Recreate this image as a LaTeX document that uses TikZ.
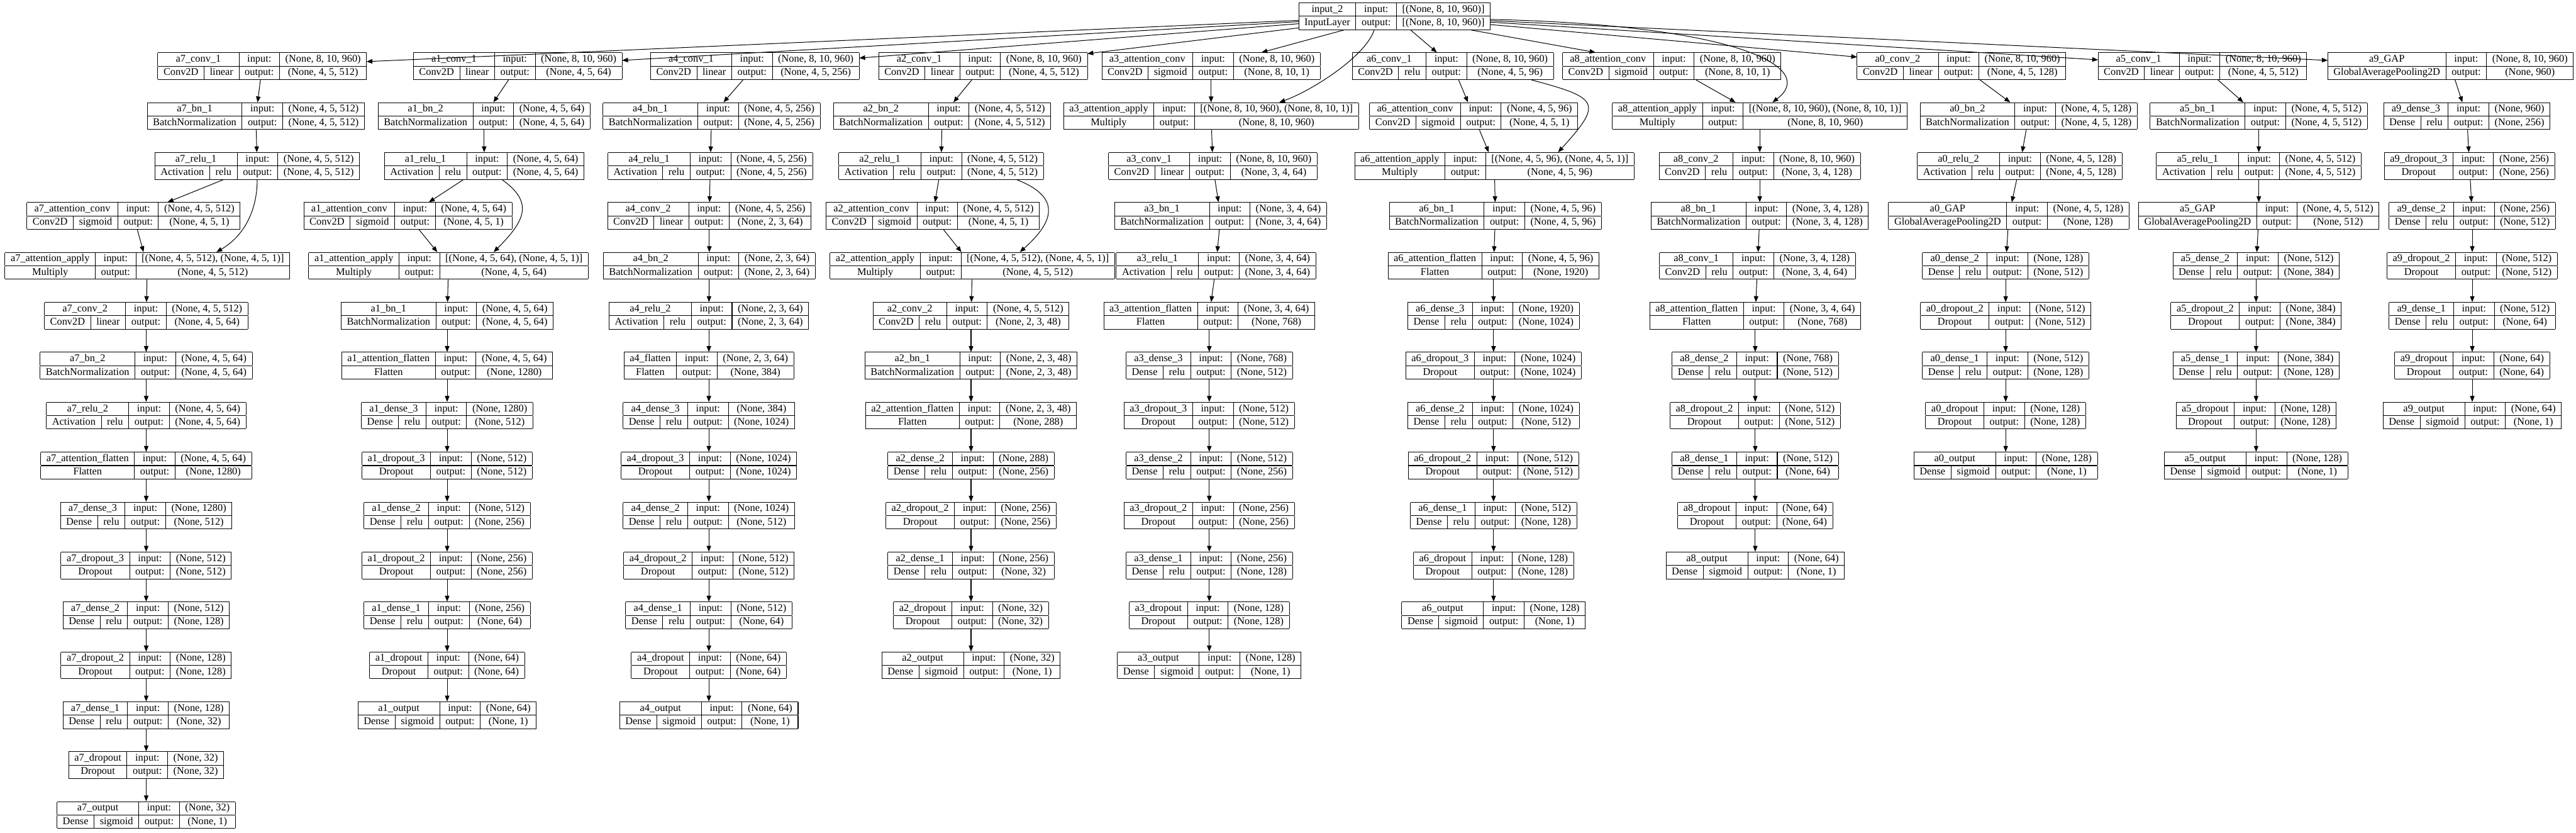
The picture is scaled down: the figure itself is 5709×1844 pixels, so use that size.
\documentclass[tikz,border=0pt]{standalone}
\usepackage{fontspec}
\setmainfont{Liberation Serif}
\usetikzlibrary{arrows.meta}
\newcommand{\lyrfont}{\fontsize{22.8pt}{27pt}\selectfont}
\setlength{\arrayrulewidth}{1.4pt}
\setlength{\tabcolsep}{12.7pt}
\renewcommand{\arraystretch}{1.05}
% layer record with activation cell
\newcommand{\lyra}[5]{\begin{tabular}{|c|c|c|c|}\hline
  \multicolumn{2}{|c|}{#1} & input: & #4\\\hline
  #2 & #3 & output: & #5\\\hline\end{tabular}}
% layer record without activation cell
\newcommand{\lyrb}[4]{\begin{tabular}{|c|c|c|}\hline
  #1 & input: & #3\\\hline
  #2 & output: & #4\\\hline\end{tabular}}
\begin{document}
\begin{tikzpicture}[x=1pt,y=-1pt]
  \tikzstyle{lyr}=[inner sep=0pt,outer sep=0pt,font=\lyrfont]
  \tikzstyle{link}=[draw,line width=1.4pt,-{Triangle[length=13pt,width=10pt]}]
  \useasboundingbox (0,0) rectangle (5709,1844);
  \node [lyr] (input2) at (3090.5,36) {\lyrb{input\_2}{InputLayer}{[(None, 8, 10, 960)]}{[(None, 8, 10, 960)]}} ;
  % a7 branch
  \node [lyr] (a7conv1) at (581,146.6) {\lyra{a7\_conv\_1}{Conv2D}{linear}{(None, 8, 10, 960)}{(None, 4, 5, 512)}} ;
  \node [lyr] (a7bn1) at (567,257.2) {\lyrb{a7\_bn\_1}{BatchNormalization}{(None, 4, 5, 512)}{(None, 4, 5, 512)}} ;
  \node [lyr] (a7relu1) at (570,367.8) {\lyra{a7\_relu\_1}{Activation}{relu}{(None, 4, 5, 512)}{(None, 4, 5, 512)}} ;
  \node [lyr] (a7attconv) at (296,478.4) {\lyra{a7\_attention\_conv}{Conv2D}{sigmoid}{(None, 4, 5, 512)}{(None, 4, 5, 1)}} ;
  \node [lyr] (a7apply) at (326.5,589) {\lyrb{a7\_attention\_apply}{Multiply}{[(None, 4, 5, 512), (None, 4, 5, 1)]}{(None, 4, 5, 512)}} ;
  \node [lyr] (a7conv2) at (324,699.6) {\lyra{a7\_conv\_2}{Conv2D}{linear}{(None, 4, 5, 512)}{(None, 4, 5, 64)}} ;
  \node [lyr] (a7bn2) at (324,810.2) {\lyrb{a7\_bn\_2}{BatchNormalization}{(None, 4, 5, 64)}{(None, 4, 5, 64)}} ;
  \node [lyr] (a7relu2) at (324,920.8) {\lyra{a7\_relu\_2}{Activation}{relu}{(None, 4, 5, 64)}{(None, 4, 5, 64)}} ;
  \node [lyr] (a7flat) at (324,1031.4) {\lyrb{a7\_attention\_flatten}{Flatten}{(None, 4, 5, 64)}{(None, 1280)}} ;
  \node [lyr] (a7dense3) at (324,1142) {\lyra{a7\_dense\_3}{Dense}{relu}{(None, 1280)}{(None, 512)}} ;
  \node [lyr] (a7drop3) at (324,1252.6) {\lyrb{a7\_dropout\_3}{Dropout}{(None, 512)}{(None, 512)}} ;
  \node [lyr] (a7dense2) at (324,1363.2) {\lyra{a7\_dense\_2}{Dense}{relu}{(None, 512)}{(None, 128)}} ;
  \node [lyr] (a7drop2) at (324,1473.8) {\lyrb{a7\_dropout\_2}{Dropout}{(None, 128)}{(None, 128)}} ;
  \node [lyr] (a7dense1) at (324,1584.4) {\lyra{a7\_dense\_1}{Dense}{relu}{(None, 128)}{(None, 32)}} ;
  \node [lyr] (a7drop) at (324,1695) {\lyrb{a7\_dropout}{Dropout}{(None, 32)}{(None, 32)}} ;
  \node [lyr] (a7out) at (324,1805.6) {\lyra{a7\_output}{Dense}{sigmoid}{(None, 32)}{(None, 1)}} ;
  % a1 branch
  \node [lyr] (a1conv1) at (1147.5,146.6) {\lyra{a1\_conv\_1}{Conv2D}{linear}{(None, 8, 10, 960)}{(None, 4, 5, 64)}} ;
  \node [lyr] (a1bn2) at (1073,257.2) {\lyrb{a1\_bn\_2}{BatchNormalization}{(None, 4, 5, 64)}{(None, 4, 5, 64)}} ;
  \node [lyr] (a1relu1) at (1073,367.8) {\lyra{a1\_relu\_1}{Activation}{relu}{(None, 4, 5, 64)}{(None, 4, 5, 64)}} ;
  \node [lyr] (a1attconv) at (904,478.4) {\lyra{a1\_attention\_conv}{Conv2D}{sigmoid}{(None, 4, 5, 64)}{(None, 4, 5, 1)}} ;
  \node [lyr] (a1apply) at (994,589) {\lyrb{a1\_attention\_apply}{Multiply}{[(None, 4, 5, 64), (None, 4, 5, 1)]}{(None, 4, 5, 64)}} ;
  \node [lyr] (a1bn1) at (991,699.6) {\lyrb{a1\_bn\_1}{BatchNormalization}{(None, 4, 5, 64)}{(None, 4, 5, 64)}} ;
  \node [lyr] (a1flat) at (991,810.2) {\lyrb{a1\_attention\_flatten}{Flatten}{(None, 4, 5, 64)}{(None, 1280)}} ;
  \node [lyr] (a1dense3) at (991,920.8) {\lyra{a1\_dense\_3}{Dense}{relu}{(None, 1280)}{(None, 512)}} ;
  \node [lyr] (a1drop3) at (991,1031.4) {\lyrb{a1\_dropout\_3}{Dropout}{(None, 512)}{(None, 512)}} ;
  \node [lyr] (a1dense2) at (991,1142) {\lyra{a1\_dense\_2}{Dense}{relu}{(None, 512)}{(None, 256)}} ;
  \node [lyr] (a1drop2) at (991,1252.6) {\lyrb{a1\_dropout\_2}{Dropout}{(None, 256)}{(None, 256)}} ;
  \node [lyr] (a1dense1) at (991,1363.2) {\lyra{a1\_dense\_1}{Dense}{relu}{(None, 256)}{(None, 64)}} ;
  \node [lyr] (a1drop) at (991,1473.8) {\lyrb{a1\_dropout}{Dropout}{(None, 64)}{(None, 64)}} ;
  \node [lyr] (a1out) at (991,1584.4) {\lyra{a1\_output}{Dense}{sigmoid}{(None, 64)}{(None, 1)}} ;
  % a4 branch
  \node [lyr] (a4conv1) at (1673,146.6) {\lyra{a4\_conv\_1}{Conv2D}{linear}{(None, 8, 10, 960)}{(None, 4, 5, 256)}} ;
  \node [lyr] (a4bn1) at (1577,257.2) {\lyrb{a4\_bn\_1}{BatchNormalization}{(None, 4, 5, 256)}{(None, 4, 5, 256)}} ;
  \node [lyr] (a4relu1) at (1574,367.8) {\lyra{a4\_relu\_1}{Activation}{relu}{(None, 4, 5, 256)}{(None, 4, 5, 256)}} ;
  \node [lyr] (a4conv2) at (1572,478.4) {\lyra{a4\_conv\_2}{Conv2D}{linear}{(None, 4, 5, 256)}{(None, 2, 3, 64)}} ;
  \node [lyr] (a4bn2) at (1572,589) {\lyrb{a4\_bn\_2}{BatchNormalization}{(None, 2, 3, 64)}{(None, 2, 3, 64)}} ;
  \node [lyr] (a4relu2) at (1571,699.6) {\lyra{a4\_relu\_2}{Activation}{relu}{(None, 2, 3, 64)}{(None, 2, 3, 64)}} ;
  \node [lyr] (a4flat) at (1571,810.2) {\lyrb{a4\_flatten}{Flatten}{(None, 2, 3, 64)}{(None, 384)}} ;
  \node [lyr] (a4dense3) at (1571,920.8) {\lyra{a4\_dense\_3}{Dense}{relu}{(None, 384)}{(None, 1024)}} ;
  \node [lyr] (a4drop3) at (1571,1031.4) {\lyrb{a4\_dropout\_3}{Dropout}{(None, 1024)}{(None, 1024)}} ;
  \node [lyr] (a4dense2) at (1571,1142) {\lyra{a4\_dense\_2}{Dense}{relu}{(None, 1024)}{(None, 512)}} ;
  \node [lyr] (a4drop2) at (1571,1252.6) {\lyrb{a4\_dropout\_2}{Dropout}{(None, 512)}{(None, 512)}} ;
  \node [lyr] (a4dense1) at (1571,1363.2) {\lyra{a4\_dense\_1}{Dense}{relu}{(None, 512)}{(None, 64)}} ;
  \node [lyr] (a4drop) at (1571,1473.8) {\lyrb{a4\_dropout}{Dropout}{(None, 64)}{(None, 64)}} ;
  \node [lyr] (a4out) at (1571,1584.4) {\lyra{a4\_output}{Dense}{sigmoid}{(None, 64)}{(None, 1)}} ;
  % a2 branch
  \node [lyr] (a2conv1) at (2178.6,146.6) {\lyra{a2\_conv\_1}{Conv2D}{linear}{(None, 8, 10, 960)}{(None, 4, 5, 512)}} ;
  \node [lyr] (a2bn2) at (2088,257.2) {\lyrb{a2\_bn\_2}{BatchNormalization}{(None, 4, 5, 512)}{(None, 4, 5, 512)}} ;
  \node [lyr] (a2relu1) at (2085.6,367.8) {\lyra{a2\_relu\_1}{Activation}{relu}{(None, 4, 5, 512)}{(None, 4, 5, 512)}} ;
  \node [lyr] (a2attconv) at (2067,478.4) {\lyra{a2\_attention\_conv}{Conv2D}{sigmoid}{(None, 4, 5, 512)}{(None, 4, 5, 1)}} ;
  \node [lyr] (a2apply) at (2155,589) {\lyrb{a2\_attention\_apply}{Multiply}{[(None, 4, 5, 512), (None, 4, 5, 1)]}{(None, 4, 5, 512)}} ;
  \node [lyr] (a2conv2) at (2152,699.6) {\lyra{a2\_conv\_2}{Conv2D}{relu}{(None, 4, 5, 512)}{(None, 2, 3, 48)}} ;
  \node [lyr] (a2bn1) at (2152,810.2) {\lyrb{a2\_bn\_1}{BatchNormalization}{(None, 2, 3, 48)}{(None, 2, 3, 48)}} ;
  \node [lyr] (a2flat) at (2152,920.8) {\lyrb{a2\_attention\_flatten}{Flatten}{(None, 2, 3, 48)}{(None, 288)}} ;
  \node [lyr] (a2dense2) at (2152,1031.4) {\lyra{a2\_dense\_2}{Dense}{relu}{(None, 288)}{(None, 256)}} ;
  \node [lyr] (a2drop2) at (2152,1142) {\lyrb{a2\_dropout\_2}{Dropout}{(None, 256)}{(None, 256)}} ;
  \node [lyr] (a2dense1) at (2152,1252.6) {\lyra{a2\_dense\_1}{Dense}{relu}{(None, 256)}{(None, 32)}} ;
  \node [lyr] (a2drop) at (2152,1363.2) {\lyrb{a2\_dropout}{Dropout}{(None, 32)}{(None, 32)}} ;
  \node [lyr] (a2out) at (2152,1473.8) {\lyra{a2\_output}{Dense}{sigmoid}{(None, 32)}{(None, 1)}} ;
  % a3 branch
  \node [lyr] (a3attconv) at (2684,146.6) {\lyra{a3\_attention\_conv}{Conv2D}{sigmoid}{(None, 8, 10, 960)}{(None, 8, 10, 1)}} ;
  \node [lyr] (a3apply) at (2684,257.2) {\lyrb{a3\_attention\_apply}{Multiply}{[(None, 8, 10, 960), (None, 8, 10, 1)]}{(None, 8, 10, 960)}} ;
  \node [lyr] (a3conv1) at (2688,367.8) {\lyra{a3\_conv\_1}{Conv2D}{linear}{(None, 8, 10, 960)}{(None, 3, 4, 64)}} ;
  \node [lyr] (a3bn1) at (2705,478.4) {\lyrb{a3\_bn\_1}{BatchNormalization}{(None, 3, 4, 64)}{(None, 3, 4, 64)}} ;
  \node [lyr] (a3relu1) at (2695,589) {\lyra{a3\_relu\_1}{Activation}{relu}{(None, 3, 4, 64)}{(None, 3, 4, 64)}} ;
  \node [lyr] (a3flat) at (2680,699.6) {\lyrb{a3\_attention\_flatten}{Flatten}{(None, 3, 4, 64)}{(None, 768)}} ;
  \node [lyr] (a3dense3) at (2680,810.2) {\lyra{a3\_dense\_3}{Dense}{relu}{(None, 768)}{(None, 512)}} ;
  \node [lyr] (a3drop3) at (2680,920.8) {\lyrb{a3\_dropout\_3}{Dropout}{(None, 512)}{(None, 512)}} ;
  \node [lyr] (a3dense2) at (2680,1031.4) {\lyra{a3\_dense\_2}{Dense}{relu}{(None, 512)}{(None, 256)}} ;
  \node [lyr] (a3drop2) at (2680,1142) {\lyrb{a3\_dropout\_2}{Dropout}{(None, 256)}{(None, 256)}} ;
  \node [lyr] (a3dense1) at (2680,1252.6) {\lyra{a3\_dense\_1}{Dense}{relu}{(None, 256)}{(None, 128)}} ;
  \node [lyr] (a3drop) at (2680,1363.2) {\lyrb{a3\_dropout}{Dropout}{(None, 128)}{(None, 128)}} ;
  \node [lyr] (a3out) at (2680,1473.8) {\lyra{a3\_output}{Dense}{sigmoid}{(None, 128)}{(None, 1)}} ;
  % a6 branch
  \node [lyr] (a6conv1) at (3220,146.6) {\lyra{a6\_conv\_1}{Conv2D}{relu}{(None, 8, 10, 960)}{(None, 4, 5, 96)}} ;
  \node [lyr] (a6attconv) at (3266,257.2) {\lyra{a6\_attention\_conv}{Conv2D}{sigmoid}{(None, 4, 5, 96)}{(None, 4, 5, 1)}} ;
  \node [lyr] (a6apply) at (3312,367.8) {\lyrb{a6\_attention\_apply}{Multiply}{[(None, 4, 5, 96), (None, 4, 5, 1)]}{(None, 4, 5, 96)}} ;
  \node [lyr] (a6bn1) at (3314,478.4) {\lyrb{a6\_bn\_1}{BatchNormalization}{(None, 4, 5, 96)}{(None, 4, 5, 96)}} ;
  \node [lyr] (a6flat) at (3310,589) {\lyrb{a6\_attention\_flatten}{Flatten}{(None, 4, 5, 96)}{(None, 1920)}} ;
  \node [lyr] (a6dense3) at (3310,699.6) {\lyra{a6\_dense\_3}{Dense}{relu}{(None, 1920)}{(None, 1024)}} ;
  \node [lyr] (a6drop3) at (3310,810.2) {\lyrb{a6\_dropout\_3}{Dropout}{(None, 1024)}{(None, 1024)}} ;
  \node [lyr] (a6dense2) at (3310,920.8) {\lyra{a6\_dense\_2}{Dense}{relu}{(None, 1024)}{(None, 512)}} ;
  \node [lyr] (a6drop2) at (3310,1031.4) {\lyrb{a6\_dropout\_2}{Dropout}{(None, 512)}{(None, 512)}} ;
  \node [lyr] (a6dense1) at (3310,1142) {\lyra{a6\_dense\_1}{Dense}{relu}{(None, 512)}{(None, 128)}} ;
  \node [lyr] (a6drop) at (3310,1252.6) {\lyrb{a6\_dropout}{Dropout}{(None, 128)}{(None, 128)}} ;
  \node [lyr] (a6out) at (3310,1363.2) {\lyra{a6\_output}{Dense}{sigmoid}{(None, 128)}{(None, 1)}} ;
  % a8 branch
  \node [lyr] (a8attconv) at (3705,146.6) {\lyra{a8\_attention\_conv}{Conv2D}{sigmoid}{(None, 8, 10, 960)}{(None, 8, 10, 1)}} ;
  \node [lyr] (a8apply) at (3900,257.2) {\lyrb{a8\_attention\_apply}{Multiply}{[(None, 8, 10, 960), (None, 8, 10, 1)]}{(None, 8, 10, 960)}} ;
  \node [lyr] (a8conv2) at (3900,367.8) {\lyra{a8\_conv\_2}{Conv2D}{relu}{(None, 8, 10, 960)}{(None, 3, 4, 128)}} ;
  \node [lyr] (a8bn1) at (3900,478.4) {\lyrb{a8\_bn\_1}{BatchNormalization}{(None, 3, 4, 128)}{(None, 3, 4, 128)}} ;
  \node [lyr] (a8conv1) at (3895,589) {\lyra{a8\_conv\_1}{Conv2D}{relu}{(None, 3, 4, 128)}{(None, 3, 4, 64)}} ;
  \node [lyr] (a8flat) at (3890,699.6) {\lyrb{a8\_attention\_flatten}{Flatten}{(None, 3, 4, 64)}{(None, 768)}} ;
  \node [lyr] (a8dense2) at (3890,810.2) {\lyra{a8\_dense\_2}{Dense}{relu}{(None, 768)}{(None, 512)}} ;
  \node [lyr] (a8drop2) at (3890,920.8) {\lyrb{a8\_dropout\_2}{Dropout}{(None, 512)}{(None, 512)}} ;
  \node [lyr] (a8dense1) at (3890,1031.4) {\lyra{a8\_dense\_1}{Dense}{relu}{(None, 512)}{(None, 64)}} ;
  \node [lyr] (a8drop) at (3890,1142) {\lyrb{a8\_dropout}{Dropout}{(None, 64)}{(None, 64)}} ;
  \node [lyr] (a8out) at (3890,1252.6) {\lyra{a8\_output}{Dense}{sigmoid}{(None, 64)}{(None, 1)}} ;
  % a0 branch
  \node [lyr] (a0conv2) at (4347,146.6) {\lyra{a0\_conv\_2}{Conv2D}{linear}{(None, 8, 10, 960)}{(None, 4, 5, 128)}} ;
  \node [lyr] (a0bn2) at (4496,257.2) {\lyrb{a0\_bn\_2}{BatchNormalization}{(None, 4, 5, 128)}{(None, 4, 5, 128)}} ;
  \node [lyr] (a0relu2) at (4476,367.8) {\lyra{a0\_relu\_2}{Activation}{relu}{(None, 4, 5, 128)}{(None, 4, 5, 128)}} ;
  \node [lyr] (a0gap) at (4452,478.4) {\lyrb{a0\_GAP}{GlobalAveragePooling2D}{(None, 4, 5, 128)}{(None, 128)}} ;
  \node [lyr] (a0dense2) at (4445,589) {\lyra{a0\_dense\_2}{Dense}{relu}{(None, 128)}{(None, 512)}} ;
  \node [lyr] (a0drop2) at (4445,699.6) {\lyrb{a0\_dropout\_2}{Dropout}{(None, 512)}{(None, 512)}} ;
  \node [lyr] (a0dense1) at (4445,810.2) {\lyra{a0\_dense\_1}{Dense}{relu}{(None, 512)}{(None, 128)}} ;
  \node [lyr] (a0drop) at (4445,920.8) {\lyrb{a0\_dropout}{Dropout}{(None, 128)}{(None, 128)}} ;
  \node [lyr] (a0out) at (4445,1031.4) {\lyra{a0\_output}{Dense}{sigmoid}{(None, 128)}{(None, 1)}} ;
  % a5 branch
  \node [lyr] (a5conv1) at (4881,146.6) {\lyra{a5\_conv\_1}{Conv2D}{linear}{(None, 8, 10, 960)}{(None, 4, 5, 512)}} ;
  \node [lyr] (a5bn1) at (5006,257.2) {\lyrb{a5\_bn\_1}{BatchNormalization}{(None, 4, 5, 512)}{(None, 4, 5, 512)}} ;
  \node [lyr] (a5relu1) at (5006,367.8) {\lyra{a5\_relu\_1}{Activation}{relu}{(None, 4, 5, 512)}{(None, 4, 5, 512)}} ;
  \node [lyr] (a5gap) at (5006,478.4) {\lyrb{a5\_GAP}{GlobalAveragePooling2D}{(None, 4, 5, 512)}{(None, 512)}} ;
  \node [lyr] (a5dense2) at (5000,589) {\lyra{a5\_dense\_2}{Dense}{relu}{(None, 512)}{(None, 384)}} ;
  \node [lyr] (a5drop2) at (5000,699.6) {\lyrb{a5\_dropout\_2}{Dropout}{(None, 384)}{(None, 384)}} ;
  \node [lyr] (a5dense1) at (5000,810.2) {\lyra{a5\_dense\_1}{Dense}{relu}{(None, 384)}{(None, 128)}} ;
  \node [lyr] (a5drop) at (5000,920.8) {\lyrb{a5\_dropout}{Dropout}{(None, 128)}{(None, 128)}} ;
  \node [lyr] (a5out) at (5000,1031.4) {\lyra{a5\_output}{Dense}{sigmoid}{(None, 128)}{(None, 1)}} ;
  % a9 branch
  \node [lyr] (a9gap) at (5431,146.6) {\lyrb{a9\_GAP}{GlobalAveragePooling2D}{(None, 8, 10, 960)}{(None, 960)}} ;
  \node [lyr] (a9dense3) at (5467,257.2) {\lyra{a9\_dense\_3}{Dense}{relu}{(None, 960)}{(None, 256)}} ;
  \node [lyr] (a9drop3) at (5473,367.8) {\lyrb{a9\_dropout\_3}{Dropout}{(None, 256)}{(None, 256)}} ;
  \node [lyr] (a9dense2) at (5479,478.4) {\lyra{a9\_dense\_2}{Dense}{relu}{(None, 256)}{(None, 512)}} ;
  \node [lyr] (a9drop2) at (5479,589) {\lyrb{a9\_dropout\_2}{Dropout}{(None, 512)}{(None, 512)}} ;
  \node [lyr] (a9dense1) at (5479,699.6) {\lyra{a9\_dense\_1}{Dense}{relu}{(None, 512)}{(None, 64)}} ;
  \node [lyr] (a9drop) at (5479,810.2) {\lyrb{a9\_dropout}{Dropout}{(None, 64)}{(None, 64)}} ;
  \node [lyr] (a9out) at (5479,920.8) {\lyra{a9\_output}{Dense}{sigmoid}{(None, 64)}{(None, 1)}} ;
  % edges from the input
  \path [link] (input2) edge (a7conv1) (input2) edge (a1conv1) (input2) edge (a4conv1)
    (input2) edge (a2conv1) (input2) edge (a3attconv) (input2) edge (a6conv1)
    (input2) edge (a8attconv) (input2) edge (a0conv2) (input2) edge (a5conv1) (input2) edge (a9gap) ;
  \draw [link] ([xshift=-45pt]input2.south) .. controls +(-20,60) and +(70,-25) .. ([xshift=151pt]a3apply.north) ;
  \draw [link] ([yshift=-7pt]input2.east) .. controls (3850,55) and (4030,150) .. ([xshift=28pt]a8apply.north) ;
  % chains
  \path [link] (a7conv1) edge (a7bn1) (a7bn1) edge (a7relu1) (a7relu1) edge (a7attconv)
    (a7attconv) edge (a7apply) (a7apply) edge (a7conv2) (a7conv2) edge (a7bn2) (a7bn2) edge (a7relu2)
    (a7relu2) edge (a7flat) (a7flat) edge (a7dense3) (a7dense3) edge (a7drop3) (a7drop3) edge (a7dense2)
    (a7dense2) edge (a7drop2) (a7drop2) edge (a7dense1) (a7dense1) edge (a7drop) (a7drop) edge (a7out) ;
  \draw [link] (a7relu1.south) .. controls +(0,70) and +(60,-35) .. ([xshift=153pt]a7apply.north) ;
  \path [link] (a1conv1) edge (a1bn2) (a1bn2) edge (a1relu1) (a1relu1) edge (a1attconv)
    (a1attconv) edge (a1apply) (a1apply) edge (a1bn1) (a1bn1) edge (a1flat) (a1flat) edge (a1dense3)
    (a1dense3) edge (a1drop3) (a1drop3) edge (a1dense2) (a1dense2) edge (a1drop2) (a1drop2) edge (a1dense1)
    (a1dense1) edge (a1drop) (a1drop) edge (a1out) ;
  \draw [link] ([xshift=40pt]a1relu1.south) .. controls +(70,50) and +(70,-70) .. ([xshift=100pt]a1apply.north) ;
  \path [link] (a4conv1) edge (a4bn1) (a4bn1) edge (a4relu1) (a4relu1) edge (a4conv2)
    (a4conv2) edge (a4bn2) (a4bn2) edge (a4relu2) (a4relu2) edge (a4flat) (a4flat) edge (a4dense3)
    (a4dense3) edge (a4drop3) (a4drop3) edge (a4dense2) (a4dense2) edge (a4drop2) (a4drop2) edge (a4dense1)
    (a4dense1) edge (a4drop) (a4drop) edge (a4out) ;
  \path [link] (a2conv1) edge (a2bn2) (a2bn2) edge (a2relu1) (a2relu1) edge (a2attconv)
    (a2attconv) edge (a2apply) (a2apply) edge (a2conv2) (a2conv2) edge (a2bn1) (a2bn1) edge (a2flat)
    (a2flat) edge (a2dense2) (a2dense2) edge (a2drop2) (a2drop2) edge (a2dense1) (a2dense1) edge (a2drop)
    (a2drop) edge (a2out) ;
  \draw [link] ([xshift=168pt]a2relu1.south) .. controls +(90,35) and +(85,-75) .. ([xshift=105pt]a2apply.north) ;
  \path [link] (a3attconv) edge (a3apply) (a3apply) edge (a3conv1) (a3conv1) edge (a3bn1)
    (a3bn1) edge (a3relu1) (a3relu1) edge (a3flat) (a3flat) edge (a3dense3) (a3dense3) edge (a3drop3)
    (a3drop3) edge (a3dense2) (a3dense2) edge (a3drop2) (a3drop2) edge (a3dense1) (a3dense1) edge (a3drop)
    (a3drop) edge (a3out) ;
  \path [link] (a6conv1) edge (a6attconv) (a6attconv) edge (a6apply) (a6apply) edge (a6bn1)
    (a6bn1) edge (a6flat) (a6flat) edge (a6dense3) (a6dense3) edge (a6drop3) (a6drop3) edge (a6dense2)
    (a6dense2) edge (a6drop2) (a6drop2) edge (a6dense1) (a6dense1) edge (a6drop) (a6drop) edge (a6out) ;
  \draw [link] ([xshift=174pt]a6conv1.south) .. controls +(150,40) and +(100,-110) .. ([xshift=141pt]a6apply.north) ;
  \path [link] (a8attconv) edge (a8apply) (a8apply) edge (a8conv2) (a8conv2) edge (a8bn1)
    (a8bn1) edge (a8conv1) (a8conv1) edge (a8flat) (a8flat) edge (a8dense2) (a8dense2) edge (a8drop2)
    (a8drop2) edge (a8dense1) (a8dense1) edge (a8drop) (a8drop) edge (a8out) ;
  \path [link] (a0conv2) edge (a0bn2) (a0bn2) edge (a0relu2) (a0relu2) edge (a0gap)
    (a0gap) edge (a0dense2) (a0dense2) edge (a0drop2) (a0drop2) edge (a0dense1) (a0dense1) edge (a0drop)
    (a0drop) edge (a0out) ;
  \path [link] (a5conv1) edge (a5bn1) (a5bn1) edge (a5relu1) (a5relu1) edge (a5gap)
    (a5gap) edge (a5dense2) (a5dense2) edge (a5drop2) (a5drop2) edge (a5dense1) (a5dense1) edge (a5drop)
    (a5drop) edge (a5out) ;
  \path [link] (a9gap) edge (a9dense3) (a9dense3) edge (a9drop3) (a9drop3) edge (a9dense2)
    (a9dense2) edge (a9drop2) (a9drop2) edge (a9dense1) (a9dense1) edge (a9drop) (a9drop) edge (a9out) ;
\end{tikzpicture}
\end{document}
